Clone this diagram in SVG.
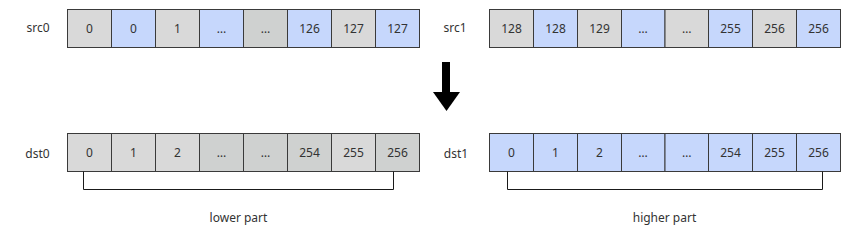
<svg xmlns="http://www.w3.org/2000/svg" width="842" height="232" viewBox="0 0 842 232">
<style>
.c{stroke:#3a3a3a;stroke-width:1}
.g{fill:#d9d9d9}
.d{fill:#cfd1d0}
.b{fill:#c6d7fc}
text{font-family:"Noto Sans","DejaVu Sans",sans-serif;font-size:12px;fill:#333}
.t{text-anchor:middle}
.br{fill:none;stroke:#1a1a1a;stroke-width:1}
</style>
<rect width="842" height="232" fill="#fff"/>
<g id="src0">
<text x="38" y="32" class="t">src0</text>
<rect class="c g" x="67.5" y="9.5" width="44" height="38"/>
<rect class="c b" x="111.5" y="9.5" width="44" height="38"/>
<rect class="c g" x="155.5" y="9.5" width="44" height="38"/>
<rect class="c b" x="199.5" y="9.5" width="44" height="38"/>
<rect class="c d" x="243.5" y="9.5" width="44" height="38"/>
<rect class="c b" x="287.5" y="9.5" width="44" height="38"/>
<rect class="c g" x="331.5" y="9.5" width="44" height="38"/>
<rect class="c b" x="375.5" y="9.5" width="44" height="38"/>
<text x="89.5" y="33" class="t">0</text>
<text x="133.5" y="33" class="t">0</text>
<text x="177.5" y="33" class="t">1</text>
<text x="221.5" y="33" class="t">…</text>
<text x="265.5" y="33" class="t">…</text>
<text x="309.5" y="33" class="t">126</text>
<text x="353.5" y="33" class="t">127</text>
<text x="397.5" y="33" class="t">127</text>
</g>
<g id="src1">
<text x="455" y="32" class="t">src1</text>
<rect class="c g" x="489.5" y="9.5" width="44" height="38"/>
<rect class="c b" x="533.5" y="9.5" width="44" height="38"/>
<rect class="c g" x="577.5" y="9.5" width="44" height="38"/>
<rect class="c b" x="621.5" y="9.5" width="43.5" height="38"/>
<rect class="c g" x="665" y="9.5" width="43.5" height="38"/>
<rect class="c b" x="708.5" y="9.5" width="44" height="38"/>
<rect class="c g" x="752.5" y="9.5" width="44" height="38"/>
<rect class="c b" x="796.5" y="9.5" width="44" height="38"/>
<text x="511.5" y="33" class="t">128</text>
<text x="555.5" y="33" class="t">128</text>
<text x="599.5" y="33" class="t">129</text>
<text x="643" y="33" class="t">…</text>
<text x="686.75" y="33" class="t">…</text>
<text x="730.5" y="33" class="t">255</text>
<text x="774.5" y="33" class="t">256</text>
<text x="818.5" y="33" class="t">256</text>
</g>
<g id="arrow">
<rect x="442" y="62" width="8" height="30" fill="#000"/>
<polygon points="433,92 460,92 446.5,111" fill="#000"/>
</g>
<g id="dst0">
<text x="37.5" y="158" class="t">dst0</text>
<rect class="c g" x="67.5" y="133.5" width="44" height="38"/>
<rect class="c g" x="111.5" y="133.5" width="44" height="38"/>
<rect class="c g" x="155.5" y="133.5" width="44" height="38"/>
<rect class="c d" x="199.5" y="133.5" width="44" height="38"/>
<rect class="c d" x="243.5" y="133.5" width="44" height="38"/>
<rect class="c d" x="287.5" y="133.5" width="44" height="38"/>
<rect class="c g" x="331.5" y="133.5" width="44" height="38"/>
<rect class="c d" x="375.5" y="133.5" width="44" height="38"/>
<text x="89.5" y="157" class="t">0</text>
<text x="133.5" y="157" class="t">1</text>
<text x="177.5" y="157" class="t">2</text>
<text x="221.5" y="157" class="t">…</text>
<text x="265.5" y="157" class="t">…</text>
<text x="309.5" y="157" class="t">254</text>
<text x="353.5" y="157" class="t">255</text>
<text x="397.5" y="157" class="t">256</text>
</g>
<g id="dst1">
<text x="456" y="158" class="t">dst1</text>
<rect class="c b" x="489.5" y="133.5" width="44" height="38"/>
<rect class="c b" x="533.5" y="133.5" width="44" height="38"/>
<rect class="c b" x="577.5" y="133.5" width="44" height="38"/>
<rect class="c b" x="621.5" y="133.5" width="43.5" height="38"/>
<rect class="c b" x="665" y="133.5" width="43.5" height="38"/>
<rect class="c b" x="708.5" y="133.5" width="44" height="38"/>
<rect class="c b" x="752.5" y="133.5" width="44" height="38"/>
<rect class="c b" x="796.5" y="133.5" width="44" height="38"/>
<text x="511.5" y="157" class="t">0</text>
<text x="555.5" y="157" class="t">1</text>
<text x="599.5" y="157" class="t">2</text>
<text x="643" y="157" class="t">…</text>
<text x="686.75" y="157" class="t">…</text>
<text x="730.5" y="157" class="t">254</text>
<text x="774.5" y="157" class="t">255</text>
<text x="818.5" y="157" class="t">256</text>
</g>
<g id="connectors">
<polyline class="br" points="83.5,171.5 83.5,189.5 393.5,189.5 393.5,171.5"/>
<polyline class="br" points="507.5,171.5 507.5,189.5 822.5,189.5 822.5,171.5"/>
</g>
<g id="labels">
<text x="238.5" y="222" class="t">lower part</text>
<text x="664.5" y="222" class="t">higher part</text>
</g>
</svg>
